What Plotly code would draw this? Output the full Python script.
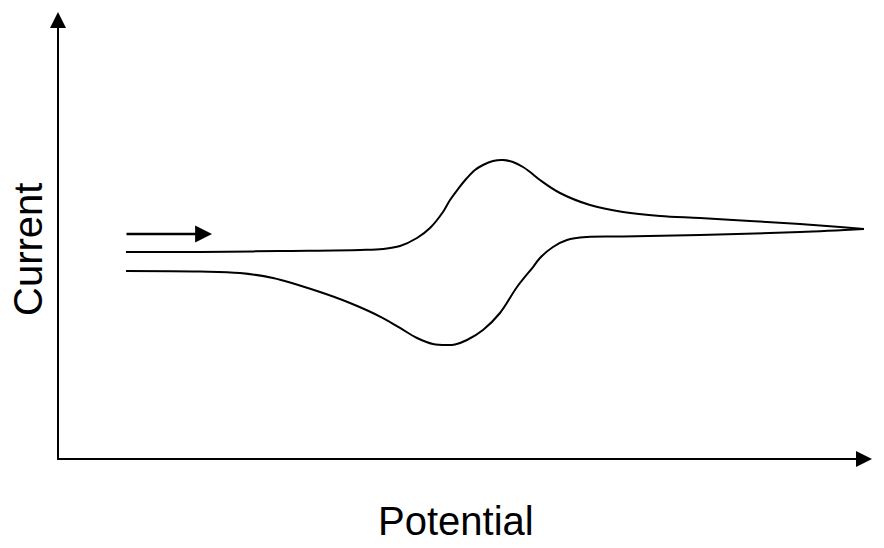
import plotly.graph_objects as go

# Forward scan (upper branch), potential vs current in arbitrary units (0-100)
fwd_potential = [8.37, 17.49, 27.34, 37.19, 40.02, 42.12, 44.21, 45.81, 47.41, 48.28, 49.26,
                 50.37, 51.35, 52.34, 53.57, 54.80, 56.03, 57.27, 58.13, 59.36, 61.82, 65.52,
                 69.58, 74.14, 79.06, 85.22, 91.38, 96.31, 99.26]
fwd_current = [46.31, 46.31, 46.53, 46.76, 46.98, 47.65, 49.44, 51.68, 55.26, 57.94, 60.40,
               62.86, 64.65, 65.77, 66.67, 66.89, 66.44, 65.32, 64.21, 62.42, 59.51, 56.82,
               55.26, 54.36, 53.91, 53.24, 52.57, 51.90, 51.45]

# Reverse scan (lower branch)
rev_potential = [99.26, 91.38, 79.06, 69.58, 65.15, 62.68, 60.96, 59.36, 58.50, 56.53,
                 54.43, 52.34, 50.37, 48.89, 47.91, 46.18, 44.21, 42.12, 40.02, 35.96, 31.90,
                 26.48, 22.41, 17.49, 8.37]
rev_current = [51.45, 50.78, 50.11, 49.78, 49.66, 48.99, 47.43, 44.97, 42.95, 38.48,
               32.66, 28.86, 26.62, 25.62, 25.50, 25.73, 27.07, 29.31, 31.54, 34.90, 37.58,
               40.49, 41.61, 41.95, 42.06]

# Scan direction arrow (start, end) and its level
scan_arrow_potential = [8.25, 18.97]
scan_arrow_current = 50.34

x_label = "Potential"
y_label = "Current"

W, H = 876, 540  # page body has an 8px margin


def px(x):
    return (x - 8) / W


def py(y):
    return (548 - y) / H


fig = go.Figure()
for xs, ys in ((fwd_potential, fwd_current), (rev_potential, rev_current)):
    fig.add_trace(go.Scatter(x=xs, y=ys, mode="lines",
                             line=dict(color="black", width=2, shape="spline", smoothing=1.0),
                             hoverinfo="skip", showlegend=False))

annotations = [
    # y axis with arrow
    dict(x=0, y=100, ax=0, ay=-0.3, xref="x", yref="y", axref="x", ayref="y",
         showarrow=True, arrowhead=2, arrowsize=1.6, arrowwidth=2, arrowcolor="black", text=""),
    # x axis with arrow
    dict(x=100.25, y=0, ax=-0.3, ay=0, xref="x", yref="y", axref="x", ayref="y",
         showarrow=True, arrowhead=2, arrowsize=1.6, arrowwidth=2, arrowcolor="black", text=""),
    # scan direction arrow
    dict(x=scan_arrow_potential[1], y=scan_arrow_current, ax=scan_arrow_potential[0],
         ay=scan_arrow_current, xref="x", yref="y", axref="x", ayref="y",
         showarrow=True, arrowhead=2, arrowsize=1.3, arrowwidth=2.6, arrowcolor="black", text=""),
    dict(x=px(456), y=py(521), xref="paper", yref="paper",
         text=x_label, showarrow=False, xanchor="center", yanchor="middle", borderpad=0,
         font=dict(family="Liberation Sans, Arial", size=40, color="black")),
    dict(x=px(28), y=py(250), xref="paper", yref="paper",
         text=y_label, showarrow=False, textangle=-90, xanchor="center", yanchor="middle",
         borderpad=0,
         font=dict(family="Liberation Sans, Arial", size=40, color="black")),
]

fig.update_layout(
    width=W, height=H,
    margin=dict(l=0, r=0, t=0, b=0),
    paper_bgcolor="white", plot_bgcolor="white",
    xaxis=dict(domain=[px(53.94), px(874.06)], range=[-0.5, 100.5], visible=False),
    yaxis=dict(domain=[py(461.235), py(9.765)], range=[-0.5, 100.5], visible=False),
    annotations=annotations,
    showlegend=False,
)

fig.write_html("out.html")
